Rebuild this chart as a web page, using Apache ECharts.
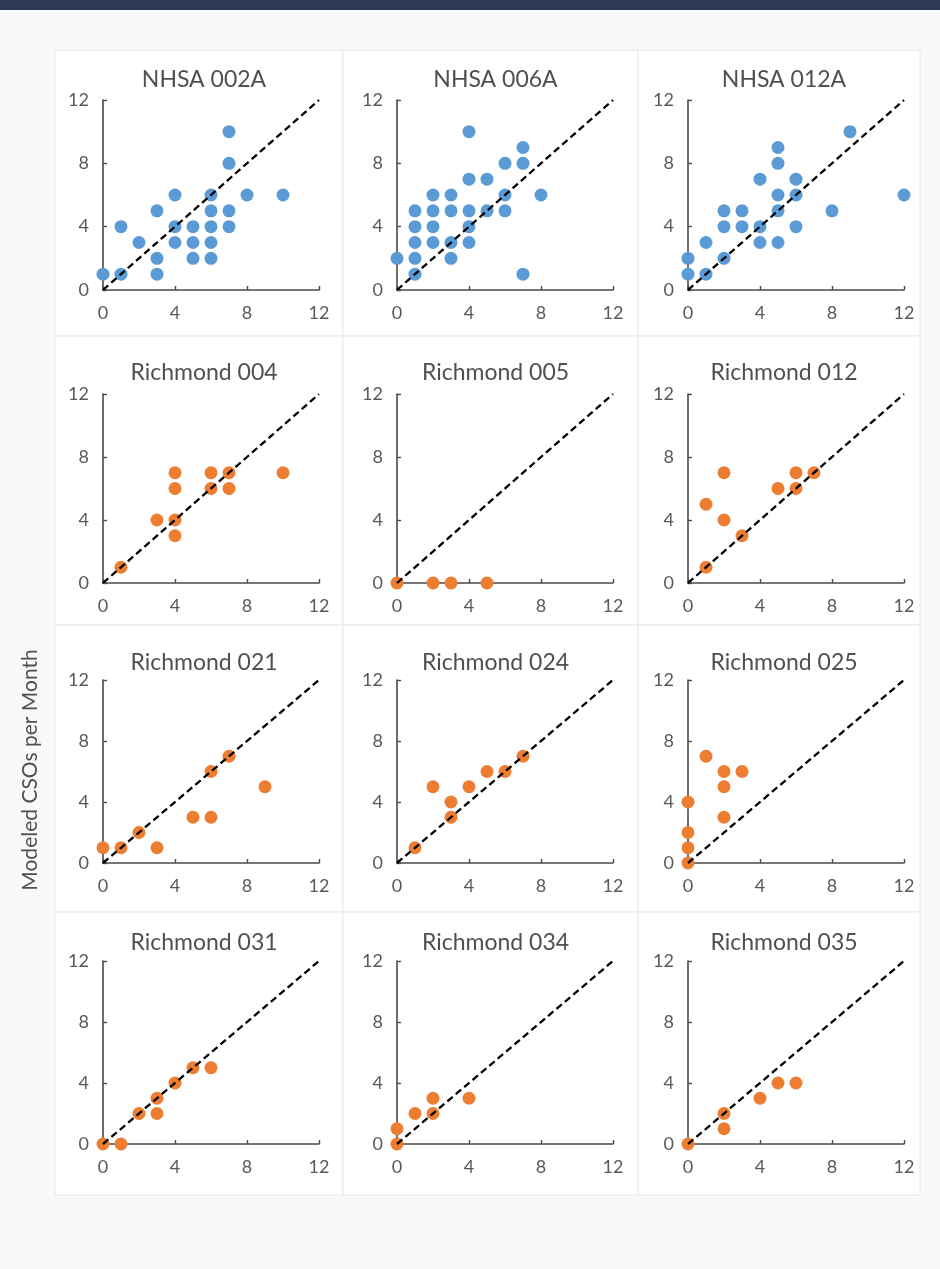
<!DOCTYPE html>
<html>
<head>
<meta charset="utf-8">
<script src="https://cdn.jsdelivr.net/npm/echarts@6/dist/echarts.min.js"></script>
<style>
  html, body { margin: 0; padding: 0; background: #f6f8fa; }
  #chart { width: 940px; height: 1269px; }
</style>
</head>
<body>
<div id="chart"></div>
<script>
// ---- DATA: [observed, modeled] CSOs per month ----
const panelTitles = ['NHSA 002A', 'NHSA 006A', 'NHSA 012A',
  'Richmond 004', 'Richmond 005', 'Richmond 012',
  'Richmond 021', 'Richmond 024', 'Richmond 025',
  'Richmond 031', 'Richmond 034', 'Richmond 035'];
const nhsa002A = [[0,1],[1,1],[1,4],[2,3],[3,5],[3,2],[3,1],[4,6],[4,4],[4,3],[5,4],[5,3],[5,2],
  [6,6],[6,5],[6,4],[6,3],[6,2],[7,10],[7,8],[7,5],[7,4],[8,6],[10,6]];
const nhsa006A = [[0,2],[1,5],[1,4],[1,3],[1,2],[1,1],[2,6],[2,5],[2,4],[2,3],[3,6],[3,5],[3,3],[3,2],
  [4,10],[4,7],[4,5],[4,4],[4,3],[5,7],[5,5],[6,8],[6,6],[6,5],[7,9],[7,8],[7,1],[8,6]];
const nhsa012A = [[0,2],[0,1],[1,3],[1,1],[2,5],[2,4],[2,2],[3,5],[3,4],[4,7],[4,4],[4,3],
  [5,9],[5,8],[5,6],[5,5],[5,3],[6,7],[6,6],[6,4],[8,5],[9,10],[12,6]];
const rich004 = [[1,1],[3,4],[4,7],[4,6],[4,4],[4,3],[6,7],[6,6],[7,7],[7,6],[10,7]];
const rich005 = [[0,0],[2,0],[3,0],[5,0]];
const rich012 = [[1,1],[1,5],[2,7],[2,4],[3,3],[5,6],[6,7],[6,6],[7,7]];
const rich021 = [[0,1],[1,1],[2,2],[3,1],[5,3],[6,3],[6,6],[7,7],[9,5]];
const rich024 = [[1,1],[2,5],[3,4],[3,3],[4,5],[5,6],[6,6],[7,7]];
const rich025 = [[0,4],[0,2],[0,1],[0,0],[1,7],[2,6],[2,5],[2,3],[3,6]];
const rich031 = [[0,0],[1,0],[2,2],[3,3],[3,2],[4,4],[5,5],[6,5]];
const rich034 = [[0,1],[0,0],[1,2],[2,3],[2,2],[4,3]];
const rich035 = [[0,0],[2,2],[2,1],[4,3],[5,4],[6,4]];
const panelData = [nhsa002A, nhsa006A, nhsa012A, rich004, rich005, rich012,
  rich021, rich024, rich025, rich031, rich034, rich035];
const oneToOne = [[0,0],[12,12]];
const axisMin = 0, axisMax = 12, axisStep = 4;
const yAxisTitle = 'Modeled CSOs per Month';

// ---- LAYOUT ----
const colLeft = [103, 397, 688];
const plotW = 216;
const rowTop = [100, 394, 680, 961];
const rowH = [190, 189, 183, 183];
const boxX = [55, 343, 638, 920];
const boxY = [50, 336, 625, 912, 1195];
const titleY = [63, 356, 646, 926];
const FONT = 'Lato, "Open Sans", sans-serif';

const grids = [], xAxes = [], yAxes = [], series = [], titles = [], graphics = [];

graphics.push({ type: 'rect', z: -20, shape: { x: 0, y: 0, width: 940, height: 1269 }, style: { fill: '#f7f9fb' } });
graphics.push({ type: 'rect', z: -19, shape: { x: 0, y: 0, width: 940, height: 10 }, style: { fill: '#2e3857' } });

for (let i = 0; i < 12; i++) {
  const r = Math.floor(i / 3), c = i % 3;
  const blue = r === 0;
  graphics.push({ type: 'rect', z: -10,
    shape: { x: boxX[c], y: boxY[r], width: boxX[c + 1] - boxX[c], height: boxY[r + 1] - boxY[r] },
    style: { fill: '#ffffff', stroke: '#e6e8eb', lineWidth: 1 } });
  grids.push({ left: colLeft[c], top: rowTop[r], width: plotW, height: rowH[r] });
  const axisCommon = {
    type: 'value', gridIndex: i, min: axisMin, max: axisMax, interval: axisStep,
    axisLine: { show: true, onZero: false, lineStyle: { color: '#4a4a4a', width: 1.6 } },
    axisTick: { show: true, inside: true, length: 4, lineStyle: { color: '#4a4a4a', width: 1.4 } },
    splitLine: { show: false },
    axisLabel: { color: '#595959', fontSize: 18, fontFamily: FONT, margin: 14 }
  };
  xAxes.push(Object.assign({}, axisCommon));
  yAxes.push(Object.assign({}, axisCommon));
  titles.push({ text: panelTitles[i], left: (boxX[c] + boxX[c + 1]) / 2, top: titleY[r], textAlign: 'center',
    textStyle: { color: '#505050', fontSize: 23, fontWeight: 'normal', fontFamily: FONT } });
  series.push({ type: 'scatter', xAxisIndex: i, yAxisIndex: i, data: panelData[i], symbolSize: 13,
    itemStyle: { color: blue ? '#5b9bd5' : '#ed7d31', opacity: 1 }, z: 2 });
  series.push({ type: 'line', xAxisIndex: i, yAxisIndex: i, data: oneToOne, symbol: 'none', z: 3,
    lineStyle: { color: '#000000', type: [7, 4], width: 2.3 } });
}

graphics.push({ type: 'text', x: 30, y: 770, rotation: Math.PI / 2, z: 10,
  style: { text: yAxisTitle, fill: '#505050', fontSize: 21, fontFamily: FONT, align: 'center', verticalAlign: 'middle' } });

const chart = echarts.init(document.getElementById('chart'), null, { renderer: 'canvas' });
chart.setOption({
  animation: false,
  backgroundColor: '#f7f9fb',
  title: titles,
  grid: grids,
  xAxis: xAxes,
  yAxis: yAxes,
  series: series,
  graphic: graphics
});
</script>
</body>
</html>
